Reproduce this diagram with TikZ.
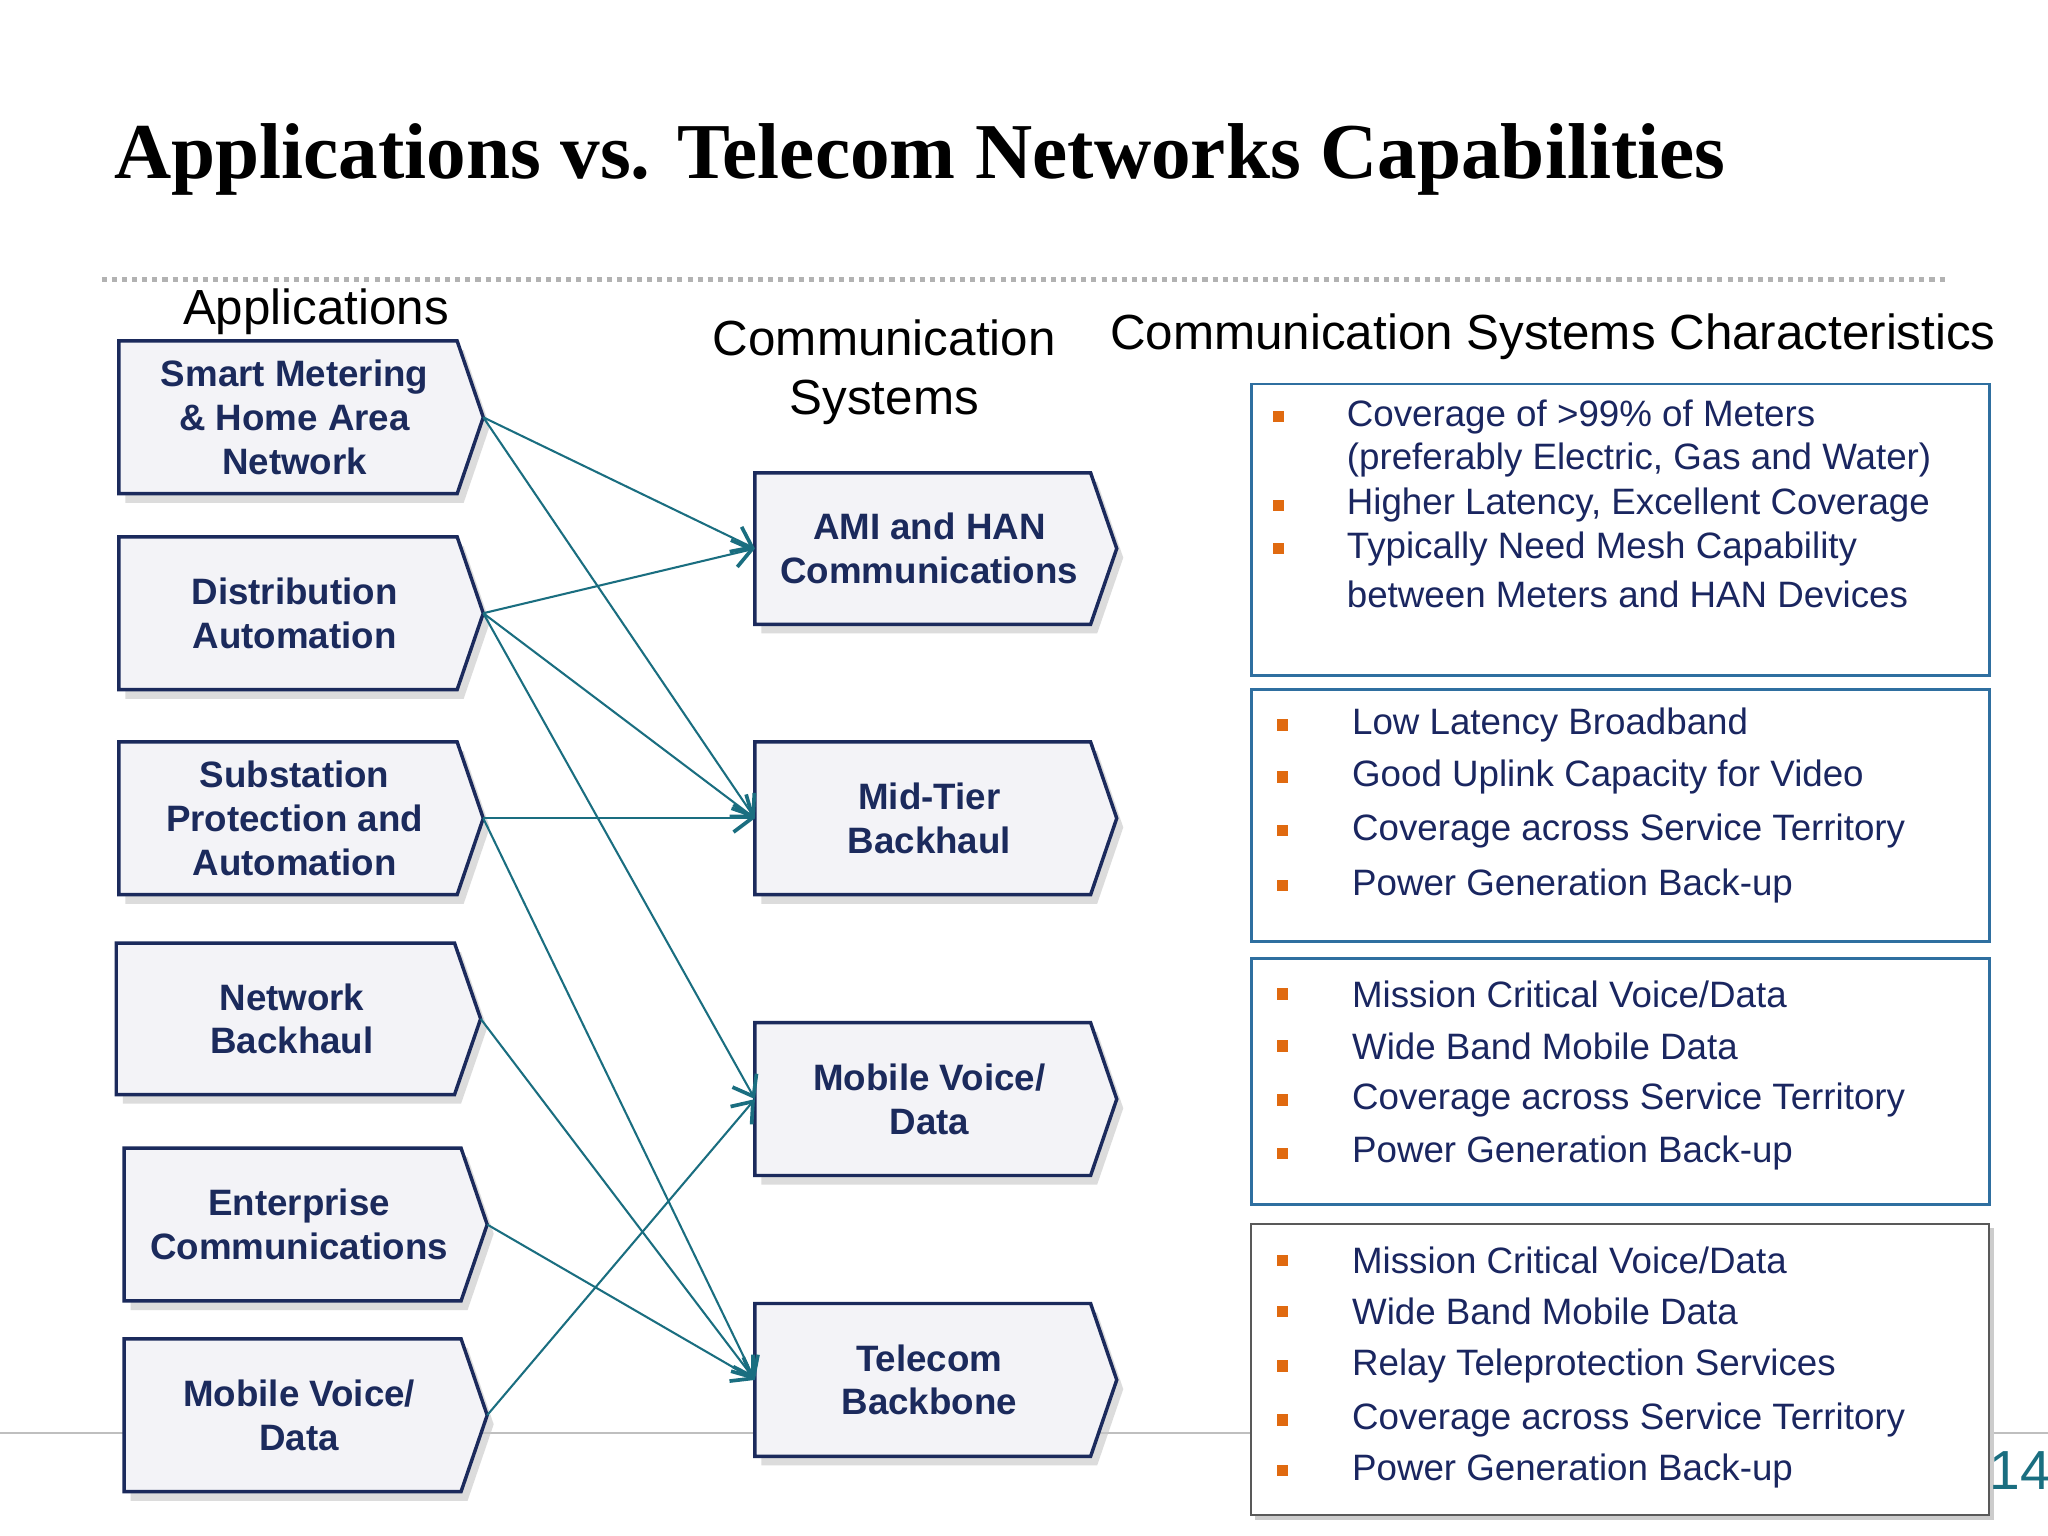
\documentclass[tikz,border=0pt]{standalone}
\usepackage{fontspec}
\setmainfont{Liberation Sans}
\newfontfamily\titlefont{Liberation Serif}
\usetikzlibrary{arrows.meta}
\definecolor{navy}{HTML}{1B2A5C}
\definecolor{boxfill}{HTML}{F3F3F7}
\definecolor{teal}{HTML}{1A6E80}
\definecolor{bullet}{HTML}{E06A10}
\definecolor{rbox}{HTML}{2F6FA0}
\definecolor{txt}{HTML}{1A2660}
\begin{document}
\begin{tikzpicture}[x=0.02cm,y=-0.02cm,
  lbl/.style={font=\fontsize{16}{19}\selectfont\bfseries, text=navy, align=center},
  conn/.style={teal, line width=0.9pt, -{Straight Barb[length=8pt,width=12pt,line width=1.6pt]}},
  rt/.style={font=\fontsize{16}{19}\selectfont, text=txt, anchor=west},
  bl/.style={fill=bullet, minimum size=5pt, inner sep=0pt},
  hd/.style={font=\fontsize{21.5}{26}\selectfont, align=center}]
\useasboundingbox (0,0) rectangle (1568,1176);
\fill[white] (0,0) rectangle (1568,1176);
\draw[gray!50, line width=0.6pt] (0,1097) -- (1568,1097);
\node[anchor=base west, inner sep=0pt, font=\titlefont\fontsize{34.5}{40}\selectfont\bfseries] (title) at (87,137) {Applications vs. Telecom Networks Capabilities};
\draw[gray!60, line width=2.2pt, dash pattern=on 2.2pt off 2.2pt] (78,214) -- (1490,214);
\node[hd] (h1) at (242,239) {Applications};
\node[hd] (h2) at (677,285) {Communication\\Systems};
\node[hd] (h3) at (1189,258) {Communication Systems Characteristics};
\newcommand{\pbox}[7]{%
  \fill[gray!45, opacity=0.6] (#2+5,#3+7) -- (#4+5,#3+7) -- (#6+5,{(#3+#5)/2+7}) -- (#4+5,#5+7) -- (#2+5,#5+7) -- cycle;
  \draw[navy, line width=1.5pt, fill=boxfill] (#2,#3) -- (#4,#3) -- (#6,{(#3+#5)/2}) -- (#4,#5) -- (#2,#5) -- cycle;
  \coordinate (#1W) at (#2,{(#3+#5)/2});
  \coordinate (#1E) at (#6,{(#3+#5)/2});
  \node[lbl] (#1) at ({(#2+#4)/2+5},{(#3+#5)/2}) {#7};}
\pbox{sm}{91}{261}{350}{378}{370}{Smart Metering\\\& Home Area\\Network}
\pbox{da}{91}{411}{350}{528}{370}{Distribution\\Automation}
\pbox{sp}{91}{568}{350}{685}{370}{Substation\\Protection and\\Automation}
\pbox{nb}{89}{722}{348}{838}{368}{Network\\Backhaul}
\pbox{ec}{95}{879}{353}{996}{373}{Enterprise\\Communications}
\pbox{mv}{95}{1025}{353}{1142}{373}{Mobile Voice/\\Data}
\pbox{ami}{578}{362}{835}{478}{855}{AMI and HAN\\Communications}
\pbox{mt}{578}{568}{835}{685}{855}{Mid-Tier\\Backhaul}
\pbox{mob}{578}{783}{835}{900}{855}{Mobile Voice/\\Data}
\pbox{tb}{578}{998}{835}{1115}{855}{Telecom\\Backbone}
\draw[conn] (smE) -- (amiW);
\draw[conn] (smE) -- (mtW);
\draw[conn] (daE) -- (amiW);
\draw[conn] (daE) -- (mtW);
\draw[conn] (daE) -- (mobW);
\draw[conn] (spE) -- (mtW);
\draw[conn] (spE) -- (tbW);
\draw[conn] (nbE) -- (tbW);
\draw[conn] (ecE) -- (tbW);
\draw[conn] (mvE) -- (mobW);
\draw[rbox, line width=1.2pt] (958,294) rectangle (1523,517);
\draw[rbox, line width=1.2pt] (958,528) rectangle (1523,721);
\draw[rbox, line width=1.2pt] (958,734) rectangle (1523,922);
\fill[gray!40] (961,940) rectangle (1527,1164);
\draw[gray!70!black, fill=white, line width=0.8pt] (958,937) rectangle (1523,1160);
\foreach \y/\t/\b in {319/{Coverage of >99\% of Meters}/1, 352/{(preferably Electric, Gas and Water)}/0, 387/{Higher Latency, Excellent Coverage}/1, 420/{Typically Need Mesh Capability}/1, 455/{between Meters and HAN Devices}/0}{
  \node[rt] at (1025,\y) {\t};
  \ifnum\b=1 \node[bl] at (979,\y) {};\fi}
\foreach \y/\t in {555/{Low Latency Broadband}, 595/{Good Uplink Capacity for Video}, 636/{Coverage across Service Territory}, 678/{Power Generation Back-up},
  761/{Mission Critical Voice/Data}, 801/{Wide Band Mobile Data}, 842/{Coverage across Service Territory}, 883/{Power Generation Back-up},
  965/{Mission Critical Voice/Data}, 1004/{Wide Band Mobile Data}, 1046/{Relay Teleprotection Services}, 1087/{Coverage across Service Territory}, 1126/{Power Generation Back-up}}{
  \node[rt] at (1029,\y) {\t};
  \node[bl] at (982,\y) {};}
\node[font=\fontsize{24}{28}\selectfont, text=teal, anchor=west, inner sep=0pt] (pg) at (1523,1126) {14};
\end{tikzpicture}
\end{document}
